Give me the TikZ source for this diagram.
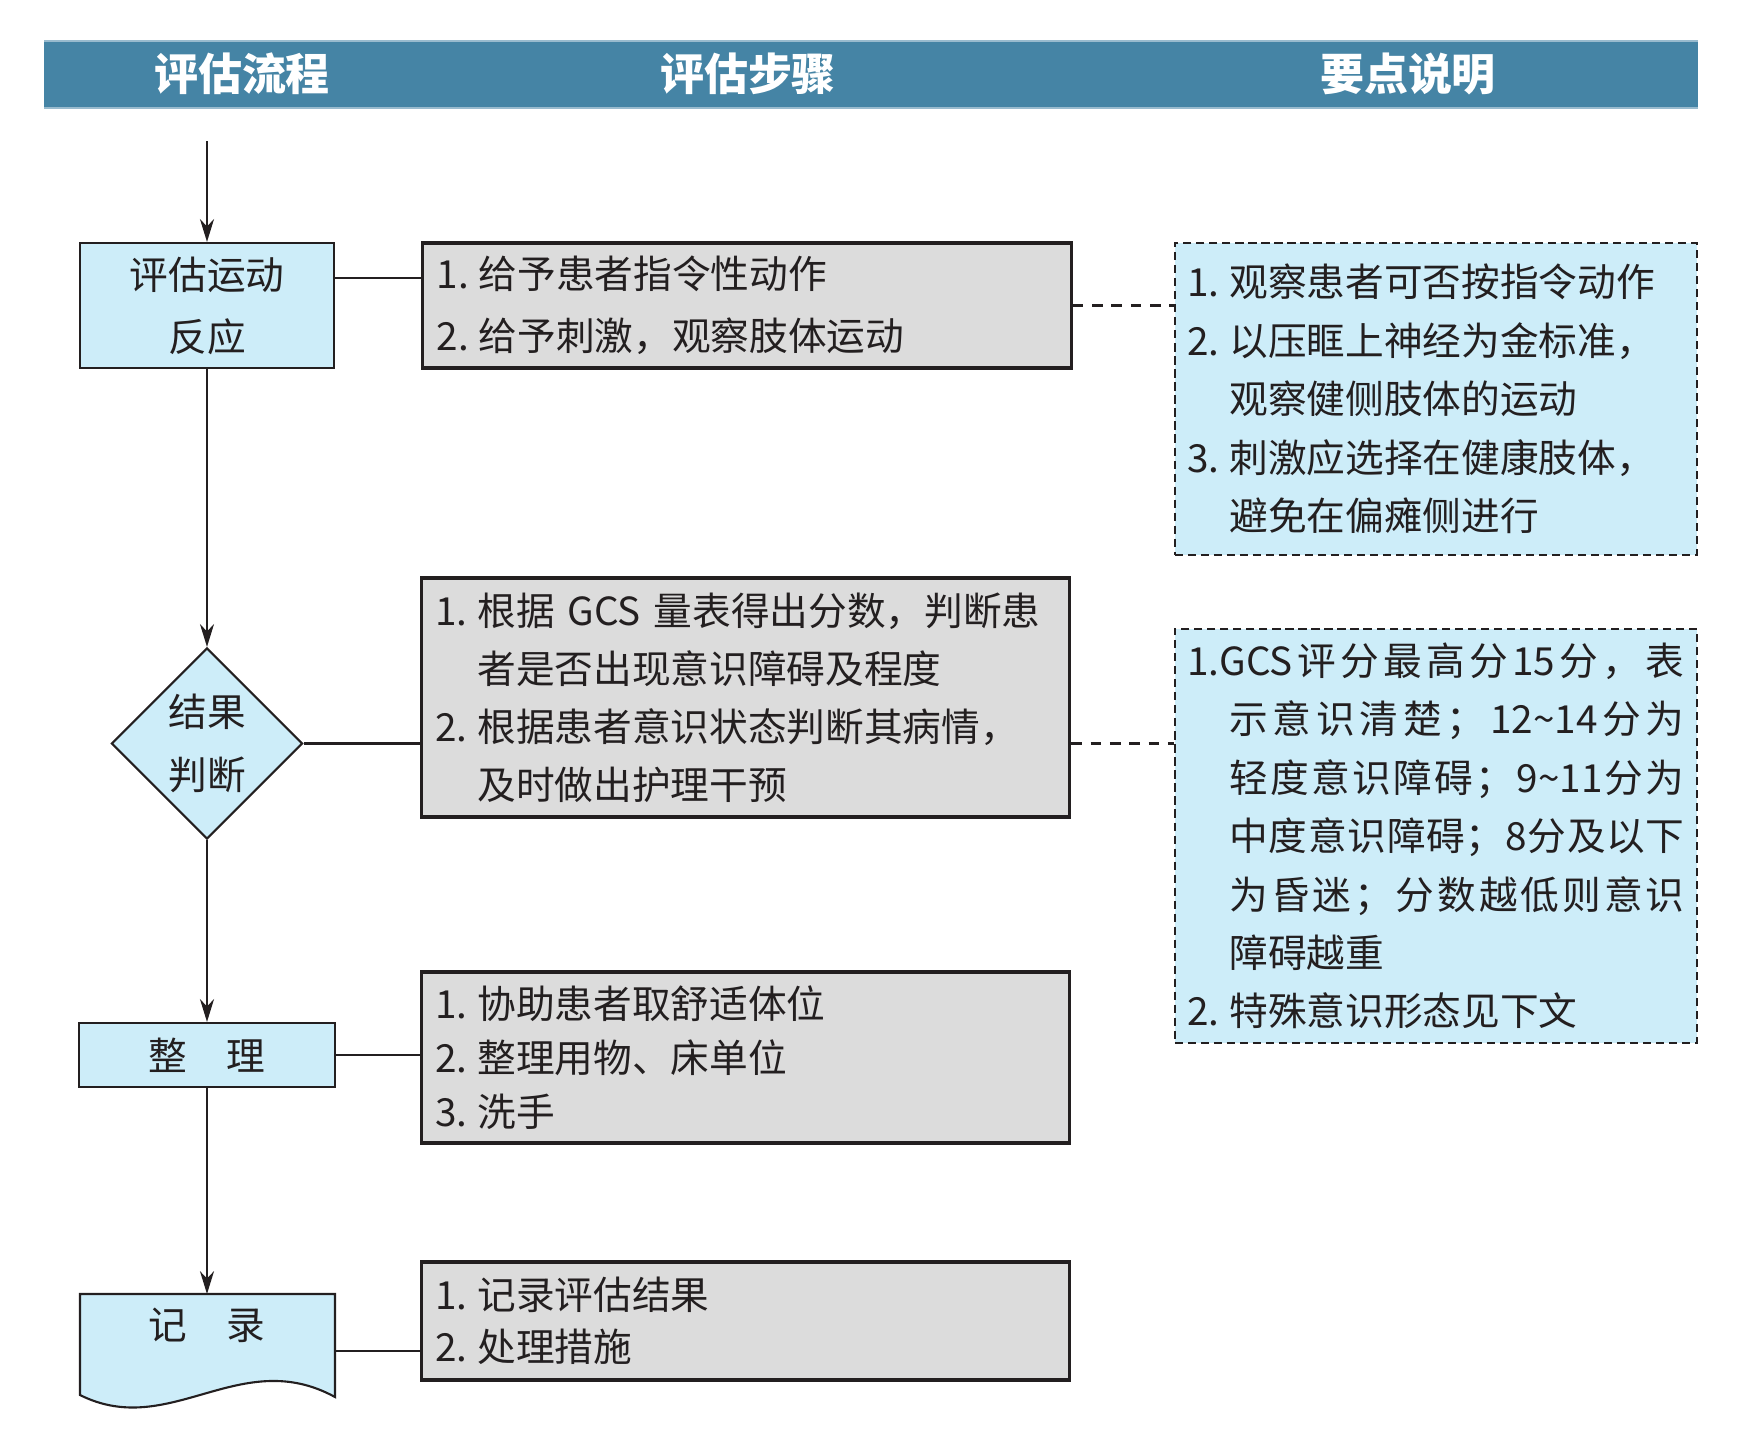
\documentclass[tikz,border=0pt]{standalone}
\usepackage{fontspec}
\setmainfont{Noto Sans CJK SC}
\usetikzlibrary{shapes.geometric,arrows.meta}
\definecolor{headblue}{RGB}{69,132,165}
\definecolor{flowblue}{RGB}{205,237,249}
\definecolor{stepgray}{RGB}{220,220,220}
\definecolor{inkblack}{RGB}{35,31,32}
% item number in a box of fixed width
\newcommand{\lnum}[1]{\makebox[0.42cm][l]{#1}}
% justified line of fixed width
\ExplSyntaxOn
\NewDocumentCommand{\jl}{mm}{
  \makebox[#1][s]{ \tl_map_inline:nn {#2} { ##1 \skip_horizontal:n { 0pt~plus~1fil } } \unskip }
}
\ExplSyntaxOff

\begin{document}
\begin{tikzpicture}[
    x=0.01cm, y=-0.01cm,
    flowbox/.style={
        rectangle,
        draw=inkblack,
        fill=flowblue,
        line width=0.6pt,
        align=center,
        text=inkblack,
        font=\fontsize{11}{17.6}\selectfont
    },
    judgebox/.style={
        diamond,
        aspect=1,
        draw=inkblack,
        fill=flowblue,
        line width=0.6pt,
        inner sep=0pt,
        minimum width=1.91cm,
        minimum height=1.91cm,
        align=center,
        text=inkblack,
        font=\fontsize{11}{18.1}\selectfont
    },
    stepbox/.style={
        rectangle,
        draw=inkblack,
        fill=stepgray,
        line width=0.9pt,
        align=left,
        text=inkblack,
        inner xsep=0.14cm,
        text width=6.2cm
    },
    notebox/.style={
        rectangle,
        draw=inkblack,
        fill=flowblue,
        line width=0.7pt,
        dash pattern=on 2.3pt off 1.4pt,
        align=left,
        text=inkblack,
        inner xsep=0.125cm,
        text width=4.97cm,
        font=\fontsize{11}{16.6}\selectfont
    },
    headtext/.style={text=white, font=\fontsize{12.5}{15}\selectfont\bfseries},
    flowarrow/.style={-{Stealth[length=6.5pt,width=4pt]}, line width=0.5pt, draw=inkblack},
    link/.style={line width=0.7pt, draw=inkblack},
    dashlink/.style={line width=0.6pt, draw=inkblack, dash pattern=on 3pt off 2.5pt}
]
\useasboundingbox (0,0) rectangle (1738,1454);

% Header bar
\fill[headblue] (44,41) rectangle (1698,108);
\draw[headblue!55!white, line width=0.5pt] (44,41) -- (1698,41) (44,108) -- (1698,108);
\node[headtext] (h1) at (242,74) {评估流程};
\node[headtext] (h2) at (748,74) {评估步骤};
\node[headtext] (h3) at (1408,74) {要点说明};

% Flow column
\coordinate (start) at (207,141);
\node[flowbox, minimum width=2.53cm, minimum height=1.25cm] (mot) at (207,305.5) {评估运动\\反应};
\node[judgebox] (judge) at (207,743.5) {结果\\判断};
\node[flowbox, minimum width=2.55cm, minimum height=0.64cm] (tidy) at (207,1055) {整\quad 理};
\coordinate (recTop) at (207,1294);
\coordinate (recR) at (335,1351);
\filldraw[fill=flowblue, draw=inkblack, line width=0.6pt]
    (80,1294) -- (335,1294) -- (335,1397)
    .. controls (240,1345) and (170,1440) .. (80,1395) -- cycle;
\node[text=inkblack, font=\fontsize{11}{17.6}\selectfont] (rec) at (207,1325) {记\quad 录};

% Steps column
\node[stepbox, minimum height=1.25cm, font=\fontsize{11}{17.6}\selectfont] (st1) at (747,305.5)
    {\lnum{1.}给予患者指令性动作\\\lnum{2.}给予刺激，观察肢体运动};
\node[stepbox, minimum height=2.39cm, font=\fontsize{11}{16.5}\selectfont] (st2) at (745.5,697.5)
    {\lnum{1.}根据 GCS 量表得出分数，判断患\\
     \lnum{}者是否出现意识障碍及程度\\
     \lnum{2.}根据患者意识状态判断其病情，\\
     \lnum{}及时做出护理干预};
\node[stepbox, minimum height=1.71cm, font=\fontsize{11}{15.3}\selectfont] (st3) at (745.5,1057.5)
    {\lnum{1.}协助患者取舒适体位\\\lnum{2.}整理用物、床单位\\\lnum{3.}洗手};
\node[stepbox, minimum height=1.18cm, font=\fontsize{11}{14.8}\selectfont] (st4) at (745.5,1321)
    {\lnum{1.}记录评估结果\\\lnum{2.}处理措施};

% Notes column
\node[notebox, minimum height=3.12cm] (note1) at (1436,399)
    {\lnum{1.}观察患者可否按指令动作\\
     \lnum{2.}以压眶上神经为金标准，\\
     \lnum{}观察健侧肢体的运动\\
     \lnum{3.}刺激应选择在健康肢体，\\
     \lnum{}避免在偏瘫侧进行};
\node[notebox, minimum height=4.14cm] (note2) at (1436,836)
    {\jl{4.97cm}{{1.GCS}评分最高分{15}分，表}\\
     \lnum{}\jl{4.55cm}{示意识清楚；{12\textasciitilde 14}分为}\\
     \lnum{}\jl{4.55cm}{轻度意识障碍；{9\textasciitilde 11}分为}\\
     \lnum{}\jl{4.55cm}{中度意识障碍；8分及以下}\\
     \lnum{}\jl{4.55cm}{为昏迷；分数越低则意识}\\
     \lnum{}障碍越重\\
     \lnum{2.}特殊意识形态见下文};

% Connectors
\draw[flowarrow] (start) -- (mot.north);
\draw[flowarrow] (mot.south) -- (judge.north);
\draw[flowarrow] (judge.south) -- (tidy.north);
\draw[flowarrow] (tidy.south) -- (recTop);
\draw[link] ([yshift=0.275cm]mot.east) -- ([yshift=0.275cm]st1.west);
\draw[link] (judge.east) -- (judge.east -| st2.west);
\draw[link] (tidy.east) -- (tidy.east -| st3.west);
\draw[link] (recR) -- (recR -| st4.west);
\draw[dashlink] (st1.east) -- (st1.east -| note1.west);
\draw[dashlink] (st2.east |- judge.east) -- (judge.east -| note2.west);
\end{tikzpicture}
\end{document}
